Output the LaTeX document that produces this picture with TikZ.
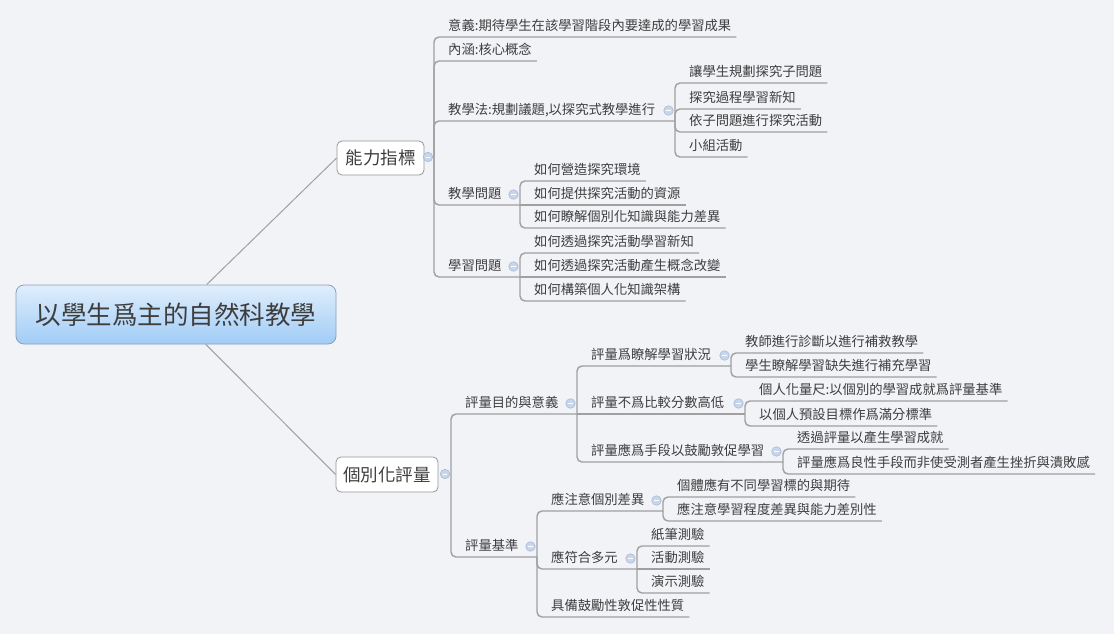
\documentclass[tikz,border=0pt]{standalone}
\usepackage{fontspec}
\newfontfamily\cjk{Noto Sans CJK TC}
\definecolor{bg}{RGB}{242,243,247}
\definecolor{linec}{RGB}{160,160,160}
\definecolor{txt}{RGB}{62,62,62}
\definecolor{btnfill}{RGB}{200,214,236}
\definecolor{btndraw}{RGB}{168,186,214}
\definecolor{rtop}{RGB}{224,238,252}
\definecolor{rbot}{RGB}{160,204,246}
\definecolor{rborder}{RGB}{140,160,182}
\definecolor{boxborder}{RGB}{150,150,150}
\tikzset{
  branch/.style={draw=linec, line width=1.4pt, rounded corners=5pt},
  straightbranch/.style={draw=linec, line width=1.4pt},
  rootline/.style={draw=linec, line width=1pt},
  topic/.style={anchor=south west, inner xsep=0pt, inner ysep=6pt, text depth=0pt,
    font=\cjk\fontsize{13.3}{16}\selectfont, text=txt},
  btn/.style={circle, minimum size=9.5pt, inner sep=0pt, fill=btnfill, draw=btndraw, line width=0.6pt,
    path picture={\draw[white, line width=1pt] ([xshift=-2.3pt]path picture bounding box.center) -- ([xshift=2.3pt]path picture bounding box.center);}},
  l1box/.style={draw=boxborder, fill=white, rounded corners=5pt, line width=0.8pt, inner xsep=0pt, inner ysep=0pt,
    font=\cjk\fontsize{17.5}{20}\selectfont, text=txt},
  rootbox/.style={draw=rborder, top color=rtop, bottom color=rbot, rounded corners=8pt, line width=0.8pt,
    minimum width=320pt, minimum height=59pt, inner sep=0pt, font=\cjk\fontsize{25.5}{28}\selectfont, text=txt},
}
% name, trunk x, underline y, text, parent junction
\newcommand\leafnode[5]{%
  \node[topic] (#1) at (#2,#3) {\hspace*{14pt}#4\hspace*{5pt}};
  \draw[branch] (#5) |- (#1.south east);}
\newcommand\leafnodeS[5]{%
  \node[topic] (#1) at (#2,#3) {\hspace*{14pt}#4\hspace*{5pt}};
  \draw[straightbranch] (#5) -- (#1.south east);}
% name, trunk x, underline y, text, junction x, parent junction
\newcommand\midnode[6]{%
  \coordinate (#1j) at (#5,#3);
  \node[topic] (#1) at (#2,#3) {\hspace*{14pt}#4};
  \draw[branch] (#6) |- (#1j);
  \node[btn] (#1b) at (#5-6.5,#3-10.5) {};}
\newcommand\midnodeS[6]{%
  \coordinate (#1j) at (#5,#3);
  \node[topic] (#1) at (#2,#3) {\hspace*{14pt}#4};
  \draw[straightbranch] (#6) -- (#1j);
  \node[btn] (#1b) at (#5-6.5,#3-10.5) {};}
\begin{document}
\begin{tikzpicture}[x=1pt, y=-1pt]
\fill[bg] (0,0) rectangle (1114,634);
\useasboundingbox (0,0) rectangle (1114,634);

% root and first level
\node[rootbox] (root) at (176,314.5) {以學生爲主的自然科教學};
\node[l1box, minimum width=87pt, minimum height=34pt] (A) at (380.5,158) {能力指標};
\node[l1box, minimum width=102pt, minimum height=35pt] (B) at (387,474.5) {個別化評量};
\draw[rootline] (root) -- (A.west);
\draw[rootline] (root) -- (B.west);
\coordinate (Aj) at (434,157);
\coordinate (Bj) at (451,474);

% branch A
\leafnode{a1}{434}{37}{意義:期待學生在該學習階段內要達成的學習成果}{Aj}
\leafnode{a2}{434}{61}{內涵:核心概念}{Aj}
\midnode{a3}{434}{121}{教學法:規劃議題,以探究式教學進行}{675}{Aj}
\leafnode{a31}{675}{83}{讓學生規劃探究子問題}{a3j}
\leafnode{a32}{675}{109}{探究過程學習新知}{a3j}
\leafnode{a33}{675}{132}{依子問題進行探究活動}{a3j}
\leafnode{a34}{675}{157}{小組活動}{a3j}
\midnode{a4}{434}{205}{教學問題}{520}{Aj}
\leafnode{a41}{520}{181}{如何營造探究環境}{a4j}
\leafnodeS{a42}{520}{205}{如何提供探究活動的資源}{a4j}
\leafnode{a43}{520}{228}{如何瞭解個別化知識與能力差異}{a4j}
\midnode{a5}{434}{277}{學習問題}{520}{Aj}
\leafnode{a51}{520}{253}{如何透過探究活動學習新知}{a5j}
\leafnodeS{a52}{520}{277}{如何透過探究活動產生概念改變}{a5j}
\leafnode{a53}{520}{301}{如何構築個人化知識架構}{a5j}

% branch B
\midnode{b1}{451}{414}{評量目的與意義}{577}{Bj}
\midnode{b11}{577}{366}{評量爲瞭解學習狀況}{731}{b1j}
\leafnode{b111}{731}{353}{教師進行診斷以進行補救教學}{b11j}
\leafnode{b112}{731}{377}{學生瞭解學習缺失進行補充學習}{b11j}
\midnodeS{b12}{577}{414}{評量不爲比較分數高低}{745}{b1j}
\leafnode{b121}{745}{401}{個人化量尺:以個別的學習成就爲評量基準}{b12j}
\leafnode{b122}{745}{426}{以個人預設目標作爲滿分標準}{b12j}
\midnode{b13}{577}{462}{評量應爲手段以鼓勵敦促學習}{783}{b1j}
\leafnode{b131}{783}{449}{透過評量以產生學習成就}{b13j}
\leafnode{b132}{783}{474}{評量應爲良性手段而非使受測者產生挫折與潰敗感}{b13j}
\midnode{b2}{451}{557}{評量基準}{537}{Bj}
\midnode{b21}{537}{511}{應注意個別差異}{663}{b2j}
\leafnode{b211}{663}{497}{個體應有不同學習標的與期待}{b21j}
\leafnode{b212}{663}{521}{應注意學習程度差異與能力差別性}{b21j}
\midnode{b22}{537}{569}{應符合多元}{637}{b2j}
\leafnode{b221}{637}{546}{紙筆測驗}{b22j}
\leafnodeS{b222}{637}{569}{活動測驗}{b22j}
\leafnode{b223}{637}{593}{演示測驗}{b22j}
\leafnode{b23}{537}{617}{具備鼓勵性敦促性性質}{b2j}

% buttons of first level
\node[btn] (Ab) at (428,157) {};
\node[btn] (Bb) at (445,474) {};
\end{tikzpicture}
\end{document}
